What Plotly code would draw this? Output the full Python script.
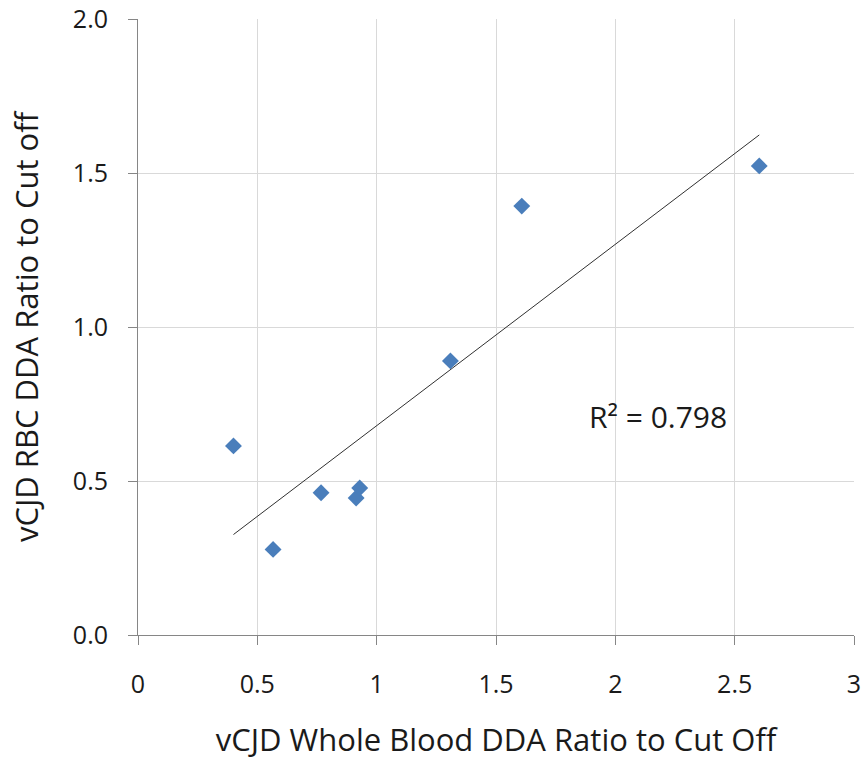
import numpy as np
import plotly.graph_objects as go

# vCJD DDA ratios to cut-off: whole blood vs red blood cells
whole_blood = [0.40, 0.566, 0.767, 0.914, 0.929, 1.309, 1.608, 2.603]
rbc = [0.614, 0.278, 0.462, 0.445, 0.4775, 0.890, 1.3925, 1.523]

x_ticks = [0, 0.5, 1, 1.5, 2, 2.5, 3]
x_tick_text = ["0", "0.5", "1", "1.5", "2", "2.5", "3"]
y_ticks = [0.0, 0.5, 1.0, 1.5, 2.0]
y_tick_text = ["0.0", "0.5", "1.0", "1.5", "2.0"]

FONT = "Open Sans"
TEXT = "#1a1a1a"

# least-squares linear trend and its coefficient of determination
xa = np.array(whole_blood)
ya = np.array(rbc)
slope, intercept = np.polyfit(xa, ya, 1)
pred = slope * xa + intercept
r2 = 1 - np.sum((ya - pred) ** 2) / np.sum((ya - ya.mean()) ** 2)
trend_x = [xa.min(), xa.max()]
trend_y = [slope * v + intercept for v in trend_x]

fig = go.Figure()
fig.add_trace(go.Scatter(
    x=trend_x, y=trend_y, mode="lines",
    line=dict(color="#303030", width=1),
    hoverinfo="skip", showlegend=False,
))
fig.add_trace(go.Scatter(
    x=whole_blood, y=rbc, mode="markers",
    marker=dict(symbol="diamond", size=13, color="#4A7EBB"),
    showlegend=False,
))

fig.add_annotation(
    x=2.18, y=0.708, xref="x", yref="y",
    text=f"R² = {r2:.3f}", showarrow=False,
    font=dict(family=FONT, size=30, color=TEXT),
)

fig.update_layout(
    width=864, height=761,
    margin=dict(l=138, r=10, t=19, b=126),
    paper_bgcolor="white", plot_bgcolor="white",
    font=dict(family=FONT, size=25, color=TEXT),
)
fig.update_xaxes(
    range=[0, 3], tickvals=x_ticks, ticktext=x_tick_text,
    showgrid=True, gridcolor="#D9D9D9", gridwidth=1,
    showline=True, linecolor="#868686", linewidth=1,
    ticks="outside", ticklen=9, tickcolor="#868686",
    zeroline=False, automargin=False,
    title=dict(text="vCJD Whole Blood DDA Ratio to Cut Off", standoff=30,
               font=dict(family=FONT, size=31, color=TEXT)),
    tickfont=dict(family=FONT, size=25, color=TEXT),
    ticklabelstandoff=18,
)
fig.update_yaxes(
    range=[0, 2], tickvals=y_ticks, ticktext=y_tick_text,
    showgrid=True, gridcolor="#D9D9D9", gridwidth=1,
    showline=True, linecolor="#868686", linewidth=1,
    ticks="outside", ticklen=9, tickcolor="#868686",
    zeroline=False, automargin=False,
    title=dict(text="vCJD RBC DDA Ratio to Cut off", standoff=24,
               font=dict(family=FONT, size=31, color=TEXT)),
    tickfont=dict(family=FONT, size=25, color=TEXT),
    ticklabelstandoff=15,
)

fig.write_html("out.html")
